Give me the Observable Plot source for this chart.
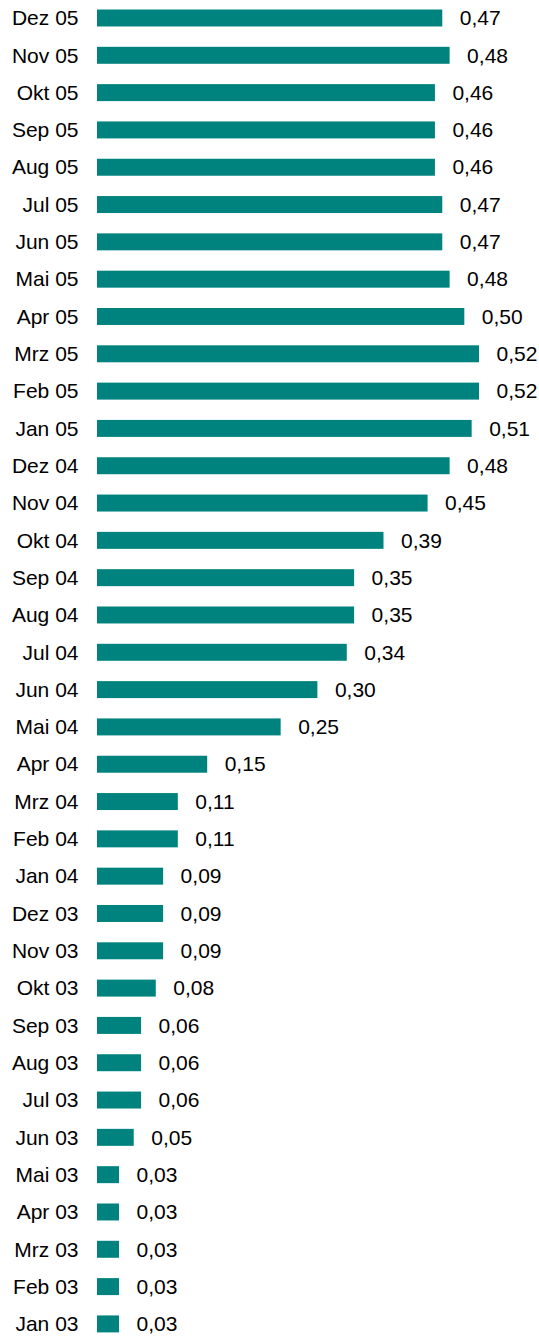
<!DOCTYPE html>
<html>
<head>
<meta charset="utf-8">
<script src="https://cdn.jsdelivr.net/npm/d3@7"></script>
<script src="https://cdn.jsdelivr.net/npm/@observablehq/plot@0.6"></script>
<style>
  html, body { margin: 0; padding: 0; background: #fff; }
  #chart svg { display: block; }
</style>
</head>
<body>
<div id="chart"></div>
<script>
const months = [
  "Dez 05","Nov 05","Okt 05","Sep 05","Aug 05","Jul 05","Jun 05","Mai 05","Apr 05","Mrz 05","Feb 05","Jan 05",
  "Dez 04","Nov 04","Okt 04","Sep 04","Aug 04","Jul 04","Jun 04","Mai 04","Apr 04","Mrz 04","Feb 04","Jan 04",
  "Dez 03","Nov 03","Okt 03","Sep 03","Aug 03","Jul 03","Jun 03","Mai 03","Apr 03","Mrz 03","Feb 03","Jan 03"
];
const values = [
  0.47,0.48,0.46,0.46,0.46,0.47,0.47,0.48,0.50,0.52,0.52,0.51,
  0.48,0.45,0.39,0.35,0.35,0.34,0.30,0.25,0.15,0.11,0.11,0.09,
  0.09,0.09,0.08,0.06,0.06,0.06,0.05,0.03,0.03,0.03,0.03,0.03
];
const data = months.map((m, i) => ({month: m, value: values[i]}));
const fmt = v => v.toFixed(2).replace(".", ",");

const chart = Plot.plot({
  width: 539,
  height: 1336,
  marginLeft: 97,
  marginRight: 60,
  marginTop: 9.5,
  marginBottom: 3.6,
  style: {fontFamily: "'Liberation Sans', Arial, sans-serif", fontSize: "21px", color: "#000"},
  x: {domain: [0, 0.52], axis: null},
  y: {domain: months, paddingInner: 0.545, paddingOuter: 0, round: false, label: null, tickSize: 0, tickPadding: 19},
  marks: [
    Plot.barX(data, {x: "value", y: "month", fill: "#00837E"}),
    Plot.text(data, {x: "value", y: "month", text: d => fmt(d.value), textAnchor: "start", dx: 17, fill: "#000", fontSize: 21})
  ]
});
chart.querySelectorAll("text").forEach(t => t.setAttribute("fill", "#000"));
document.getElementById("chart").append(chart);
</script>
</body>
</html>
